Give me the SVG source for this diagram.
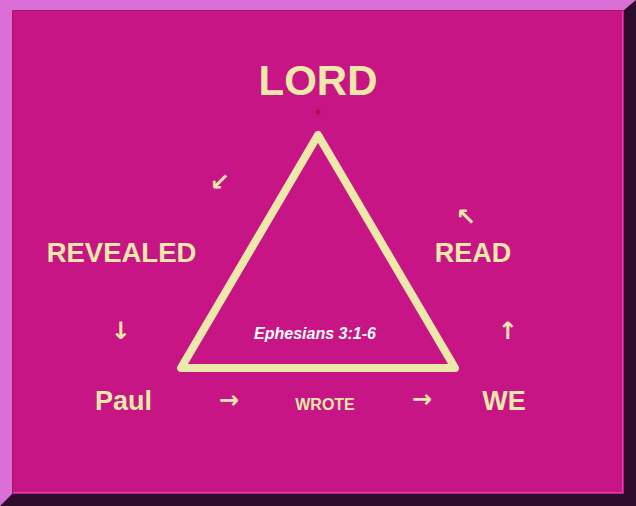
<svg xmlns="http://www.w3.org/2000/svg" width="636" height="506" viewBox="0 0 636 506">
<style>
.lbl{font-family:"Liberation Sans",Arial,sans-serif;font-weight:bold;fill:#EEE8AA;text-anchor:middle}
.arr{font-family:"DejaVu Sans",sans-serif;font-weight:bold;fill:#EEE8AA;text-anchor:middle}
</style>
<g id="frame">
<rect x="0" y="0" width="636" height="506" fill="#DA70D6"/>
<polygon points="636,0 636,506 0,506 12,494 624,494 624,10" fill="#2E0C2E"/>
<rect x="12" y="10" width="612" height="484" fill="#C71585"/>
<path d="M12.5,494 V10.5 H624" fill="none" stroke="#B0106F" stroke-width="1"/>
<path d="M13,492.5 H622.5 V11" fill="none" stroke="#D84AA8" stroke-width="1"/>
</g>
<g id="triangle">
<polygon points="318,135 181,368 455,368" fill="none" stroke="#EEE8AA" stroke-width="8" stroke-linejoin="round"/>
<path d="M318,109 V115 M315,112 H321" stroke="#A0103A" stroke-width="1.5"/>
</g>
<g id="lord"><text class="lbl" x="318" y="95" font-size="42">LORD</text></g>
<g id="revealed"><text class="lbl" x="121.5" y="262" font-size="27.5">REVEALED</text></g>
<g id="read"><text class="lbl" x="473" y="262" font-size="27">READ</text></g>
<g id="paul"><text class="lbl" x="123.5" y="410" font-size="27">Paul</text></g>
<g id="we"><text class="lbl" x="504" y="410" font-size="27">WE</text></g>
<g id="wrote"><text class="lbl" x="325" y="410" font-size="16">WROTE</text></g>
<g id="ephesians"><text class="lbl" x="315" y="339" font-size="16" font-style="italic" style="fill:#FFFFFF">Ephesians 3:1-6</text></g>
<g id="connectors">
<text class="arr" x="220" y="190" font-size="24">↙</text>
<text class="arr" x="466" y="225" font-size="24">↖</text>
<text class="arr" x="120.5" y="339" font-size="24">↓</text>
<text class="arr" x="507.5" y="339" font-size="24">↑</text>
<text class="arr" x="229" y="408" font-size="24">→</text>
<text class="arr" x="422" y="407" font-size="24">→</text>
</g>
</svg>
